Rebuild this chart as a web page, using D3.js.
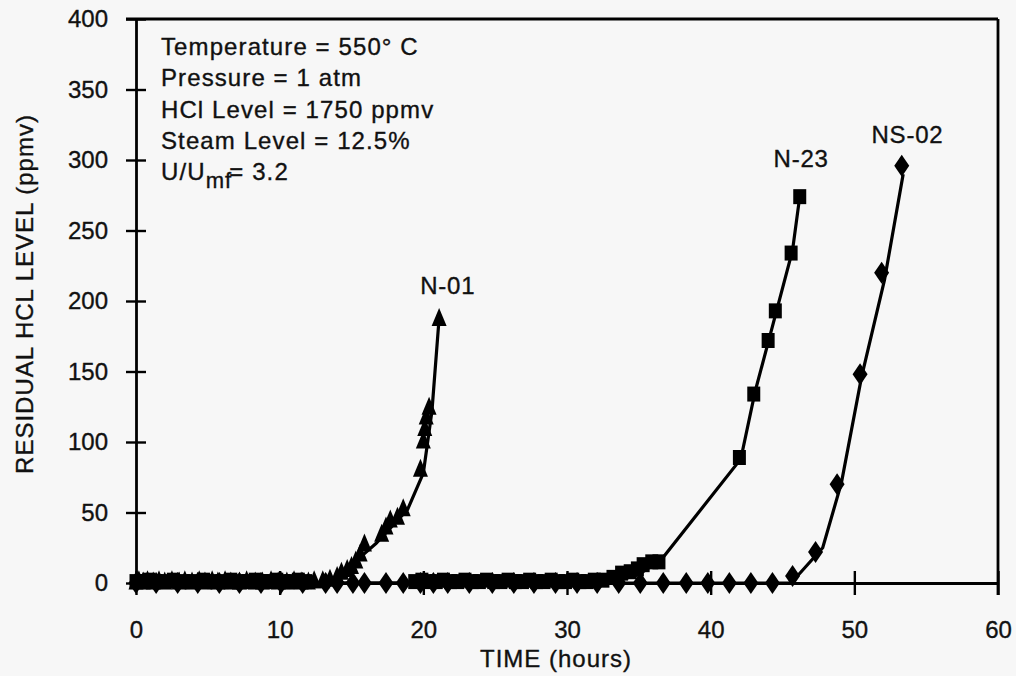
<!DOCTYPE html>
<html><head><meta charset="utf-8">
<script src="https://cdn.jsdelivr.net/npm/d3@7"></script>
<style>
html,body{margin:0;padding:0;background:#f7f7f7;}
svg{display:block;}
text{font-family:"Liberation Sans",Arial,Helvetica,sans-serif;fill:#111;stroke:#111;stroke-width:0.35px;}
</style></head>
<body>
<svg id="chart" width="1016" height="676"></svg>
<script>
// ---- data ----
const xTicks = [0, 10, 20, 30, 40, 50, 60];
const yTicks = [0, 50, 100, 150, 200, 250, 300, 350, 400];
const xTitle = "TIME (hours)";
const yTitle = "RESIDUAL HCL LEVEL (ppmv)";
const conditions = ["Temperature = 550° C", "Pressure = 1 atm", "HCl Level = 1750 ppmv", "Steam Level = 12.5%"];

// N-01 (triangles)
const n01X = [0, 0.2, 0.5, 0.8, 1.2, 1.6, 2.0, 2.5, 3.0, 3.4, 3.9, 4.4, 4.8, 5.3, 5.7, 6.2, 6.6, 7.2, 7.7, 8.3, 8.8, 9.4, 9.9, 10.5, 11.0, 11.5, 12.0, 12.4,
  13.0, 13.5, 14.0, 14.3, 14.7, 15.0, 15.3, 15.6, 15.9, 17.1, 17.4, 17.7, 18.2, 18.6, 19.8, 20.0, 20.1, 20.2, 20.4, 21.1];
const n01Y = [1, 2, 1, 2, 1, 2, 1, 2, 1, 2, 1, 2, 1, 2, 1, 2, 1, 1, 2, 1, 1, 2, 1, 1, 2, 1, 1, 2,
  2, 3, 5, 8, 10, 12, 16, 21, 28, 35, 40, 45, 47, 53, 81, 101, 110, 118, 125, 188];
const n01FitX = [0, 12.5, 13.9, 15.0, 15.8, 16.7, 18.9, 20.0, 20.6, 21.1];
const n01FitY = [0, 0, 3, 10, 20, 28, 52, 78, 122, 188];

// N-23 (squares)
const n23X = [0, 0.4, 0.9, 1.4, 2.0, 2.6, 3.3, 4.0, 4.7, 5.4, 6.0, 6.6, 7.3, 7.8, 8.3, 8.8, 9.3, 9.8, 10.3, 10.8, 11.3, 11.8,
  19.4, 19.9, 20.4, 20.9, 21.4, 21.9, 22.4, 22.9, 23.4, 23.9, 24.4, 24.9, 25.4, 25.9, 26.4, 26.9, 27.4, 27.9, 28.4, 28.9, 29.4, 29.9, 30.4, 30.9, 31.4, 31.9,
  32.5, 33.2, 33.8, 34.4, 34.9, 35.3, 35.9, 36.4, 42.0, 43.0, 44.0, 44.5, 45.6, 46.2];
const n23Y = [1, 1, 2, 1, 1, 2, 1, 1, 2, 1, 1, 2, 1, 1, 2, 1, 1, 2, 1, 1, 2, 1,
  1, 2, 1, 1, 2, 1, 1, 2, 1, 1, 2, 1, 1, 2, 1, 1, 2, 1, 1, 2, 1, 1, 2, 1, 1, 2,
  2, 4, 7, 8, 10, 13, 15, 15, 89, 134, 172, 193, 234, 274];
const n23FitX = [0, 33.0, 35.0, 36.6, 42.1, 43.1, 44.3, 45.7, 46.2];
const n23FitY = [0, 0, 6, 17, 88, 136, 182, 236, 274];

// NS-02 (diamonds)
const ns02X = [0, 1.4, 2.9, 4.3, 5.8, 7.2, 8.7, 10.1, 11.6, 13.2, 14.0, 15.1, 15.9, 17.4, 18.6, 19.8, 20.7, 21.7, 23.2, 24.8, 26.3, 27.7, 29.2,
  30.7, 32.1, 33.6, 35.1, 36.7, 38.3, 39.8, 41.3, 42.8, 44.3, 45.7, 47.3, 48.8, 50.4, 51.9, 53.3];
const ns02Y = [0, 0, 0, 0, 0, 0, 0, 0, 0, 0, 0, 0, 0, 0, 0, 0, 0, 0, 0, 0, 0, 0, 0,
  0, 0, 0, 0, 0, 0, 0, 0, 0, 0, 5, 22, 70, 148, 220, 296];
const ns02FitX = [0, 45.6, 47.8, 49.1, 50.5, 52.1, 53.4];
const ns02FitY = [0, 0, 25, 71, 146, 215, 290];

const seriesNames = ["N-01", "N-23", "NS-02"];
const labelX = [21.7, 46.3, 53.7];
const labelY = [205, 295, 312];

// ---- drawing ----
const svg = d3.select("#chart");
const W = 1016, H = 676;
svg.append("rect").attr("width", W).attr("height", H).attr("fill", "#f7f7f7");

const x = d3.scaleLinear().domain([0, 60]).range([136, 998]);
const y = d3.scaleLinear().domain([0, 400]).range([583, 19]);

// frame (top and right)
svg.append("line").attr("x1", x(0) - 10).attr("x2", x(60)).attr("y1", y(400)).attr("y2", y(400))
  .attr("stroke", "#000").attr("stroke-width", 2.8);
svg.append("line").attr("x1", x(60)).attr("x2", x(60)).attr("y1", y(400)).attr("y2", y(0) + 12)
  .attr("stroke", "#000").attr("stroke-width", 2.8);

// axes
const xAxis = svg.append("g").attr("transform", `translate(0,${y(0)})`)
  .call(d3.axisBottom(x).tickValues(xTicks).tickSize(12).tickPadding(26).tickSizeOuter(0));
xAxis.selectAll(".tick line").attr("y1", -12).attr("stroke-width", 2.4);
xAxis.select(".domain").attr("stroke-width", 2.8);
xAxis.selectAll("text").attr("font-size", 24).attr("fill", "#111")
  .attr("font-family", "Liberation Sans, Arial, sans-serif");

const yAxis = svg.append("g").attr("transform", `translate(${x(0)},0)`)
  .call(d3.axisLeft(y).tickValues(yTicks).tickSize(10).tickPadding(18).tickSizeOuter(0));
yAxis.selectAll(".tick line").attr("x2", 10).attr("x1", -10).attr("stroke-width", 2.4);
yAxis.select(".domain").attr("stroke-width", 2.8);
yAxis.selectAll("text").attr("font-size", 24).attr("fill", "#111")
  .attr("font-family", "Liberation Sans, Arial, sans-serif");

// axis titles
svg.append("text").attr("x", 556).attr("y", 667).attr("text-anchor", "middle")
  .attr("font-size", 24).attr("letter-spacing", 1).text(xTitle);
svg.append("text").attr("transform", `translate(33,294) rotate(-90)`).attr("text-anchor", "middle")
  .attr("font-size", 24).attr("letter-spacing", 1).text(yTitle);

// condition notes
const noteG = svg.append("g");
conditions.forEach((c, i) => {
  noteG.append("text").attr("x", 161).attr("y", 55 + i * 31.3)
    .attr("font-size", 24).attr("letter-spacing", 1.1).text(c);
});
const u = noteG.append("text").attr("x", 161).attr("y", 55 + 4 * 31.3).attr("font-size", 24).attr("letter-spacing", 1.1);
u.append("tspan").text("U/U");
u.append("tspan").attr("dy", 8).attr("font-size", 22).text("mf");
u.append("tspan").attr("dy", -8).attr("dx", -3).text("= 3.2");

// lines
const line = d3.line().x(d => x(d[0])).y(d => y(d[1]));
const fits = [[n01FitX, n01FitY], [n23FitX, n23FitY], [ns02FitX, ns02FitY]];
fits.forEach(([fx, fy]) => {
  svg.append("path").datum(fx.map((v, i) => [v, fy[i]]))
    .attr("d", line).attr("fill", "none").attr("stroke", "#000").attr("stroke-width", 3.2);
});

// markers
const tri = "M0,-10 L7.5,8 L-7.5,8 Z";
const sq = "M-6.5,-7.5 L6.5,-7.5 L6.5,7.5 L-6.5,7.5 Z";
const dia = "M0,-11 L7.5,0 L0,11 L-7.5,0 Z";
function markers(xs, ys, path) {
  svg.append("g").selectAll("path").data(xs.map((v, i) => [v, ys[i]])).join("path")
    .attr("d", path).attr("fill", "#000")
    .attr("transform", d => `translate(${x(d[0])},${y(d[1])})`);
}
markers(ns02X, ns02Y, dia);
markers(n23X, n23Y, sq);
markers(n01X, n01Y, tri);

// series labels
seriesNames.forEach((s, i) => {
  svg.append("text").attr("x", x(labelX[i])).attr("y", y(labelY[i]))
    .attr("text-anchor", "middle").attr("font-size", 24).attr("letter-spacing", 0.8).text(s);
});
</script>
</body></html>
